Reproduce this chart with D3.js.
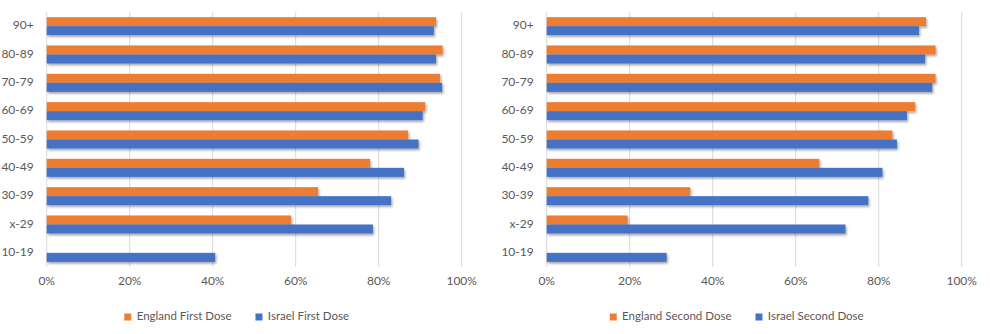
<!DOCTYPE html>
<html>
<head>
<meta charset="utf-8">
<script src="https://cdn.jsdelivr.net/npm/d3@7"></script>
<style>
  body { margin: 0; background: #fff; }
  text { font-family: Lato, "Open Sans", sans-serif; }
</style>
</head>
<body>
<div id="chart"></div>
<script>
// data (percent vaccinated)
const ageGroups = ["10-19", "x-29", "30-39", "40-49", "50-59", "60-69", "70-79", "80-89", "90+"];
const englandFirst = [null, 58.9, 65.4, 77.9, 87.1, 91.2, 94.8, 95.4, 93.8];
const israelFirst = [40.6, 78.6, 83.0, 86.1, 89.6, 90.6, 95.3, 93.8, 93.3];
const englandSecond = [null, 19.5, 34.6, 65.7, 83.3, 88.8, 93.7, 93.7, 91.4];
const israelSecond = [28.9, 72.0, 77.5, 80.9, 84.4, 86.8, 92.9, 91.2, 89.7];
const xTicks = [0, 20, 40, 60, 80, 100];

const width = 990, height = 334;
const orange = "#ED7D31", blue = "#4472C4";

const panels = [
  { offset: 0, series: [
    { name: "England First Dose", color: orange, values: englandFirst },
    { name: "Israel First Dose", color: blue, values: israelFirst }
  ]},
  { offset: 500, series: [
    { name: "England Second Dose", color: orange, values: englandSecond },
    { name: "Israel Second Dose", color: blue, values: israelSecond }
  ]}
];

const svg = d3.select("#chart").append("svg")
  .attr("width", width)
  .attr("height", height);

// soft drop shadow like Excel's bar effect
const filter = svg.append("defs").append("filter")
  .attr("id", "shadow")
  .attr("x", "-5%").attr("y", "-50%")
  .attr("width", "110%").attr("height", "220%");
filter.append("feDropShadow")
  .attr("dx", 1.2).attr("dy", 1.8)
  .attr("stdDeviation", 1)
  .attr("flood-color", "#000")
  .attr("flood-opacity", 0.35);

panels.forEach(panel => {
  const g = svg.append("g").attr("transform", `translate(${panel.offset},0)`);

  const x = d3.scaleLinear().domain([0, 100]).range([46.7, 461.7]);
  const y = d3.scaleBand().domain([...ageGroups].reverse()).range([12, 267]);
  const y1 = d3.scaleBand()
    .domain(panel.series.map(s => s.name))
    .range([0, y.bandwidth()])
    .paddingOuter(0.57);

  // gridlines
  g.selectAll(".grid")
    .data(xTicks)
    .enter()
    .append("line")
    .attr("x1", d => x(d)).attr("x2", d => x(d))
    .attr("y1", 12).attr("y2", 267)
    .attr("stroke", "#D9D9D9")
    .attr("stroke-width", 1);

  // x tick labels
  g.selectAll(".xtick")
    .data(xTicks)
    .enter()
    .append("text")
    .attr("x", d => x(d))
    .attr("y", 282)
    .attr("text-anchor", "middle")
    .attr("dominant-baseline", "middle")
    .attr("font-size", 12)
    .attr("fill", "#595959")
    .text(d => d + "%");

  // category labels
  g.selectAll(".ytick")
    .data(ageGroups)
    .enter()
    .append("text")
    .attr("x", x(0) - 13)
    .attr("y", d => y(d) + y.bandwidth() / 2)
    .attr("text-anchor", "end")
    .attr("dominant-baseline", "middle")
    .attr("font-size", 12)
    .attr("fill", "#595959")
    .text(d => d);

  // bars
  panel.series.forEach(s => {
    g.selectAll(null)
      .data(ageGroups.map((a, i) => ({ age: a, value: s.values[i] })).filter(d => d.value != null))
      .enter()
      .append("rect")
      .attr("x", x(0))
      .attr("y", d => y(d.age) + y1(s.name))
      .attr("width", d => x(d.value) - x(0))
      .attr("height", y1.bandwidth())
      .attr("fill", s.color)
      .attr("filter", "url(#shadow)");
  });

  // legend
  const legend = g.append("g");
  let cursor = 0;
  panel.series.forEach((s, i) => {
    const item = legend.append("g").attr("transform", `translate(${cursor},0)`);
    item.append("rect")
      .attr("x", 0).attr("y", 313.5)
      .attr("width", 7).attr("height", 7)
      .attr("fill", s.color);
    const t = item.append("text")
      .attr("x", 12.4)
      .attr("y", 317)
      .attr("dominant-baseline", "middle")
      .attr("font-size", 11.5)
      .attr("fill", "#595959")
      .text(s.name);
    cursor += 12.4 + t.node().getComputedTextLength() + 24;
  });
  const legendWidth = cursor - 24;
  legend.attr("transform", `translate(${236.7 - legendWidth / 2},0)`);
});
</script>
</body>
</html>
